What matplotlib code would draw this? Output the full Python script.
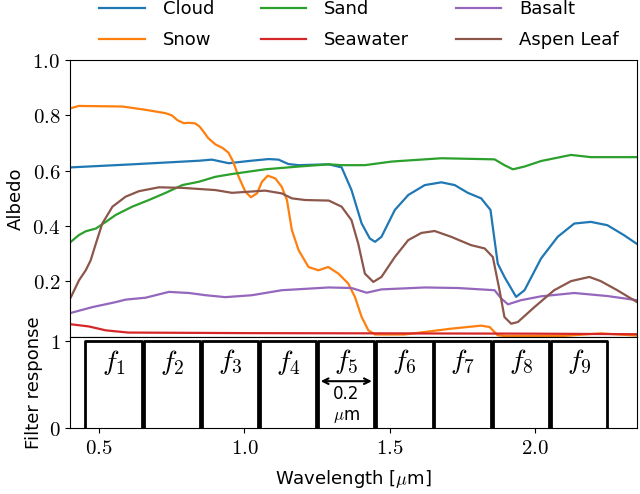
import matplotlib
matplotlib.use("Agg")
import matplotlib.pyplot as plt
from matplotlib.ticker import FuncFormatter

plt.rcParams['font.family'] = ['DejaVu Sans']
plt.rcParams['mathtext.fontset'] = 'cm'

# ---------------- data ----------------
cloud_x = [0.403, 0.614, 0.843, 0.888, 0.946, 1.014, 1.083, 1.117, 1.151, 1.186, 1.29, 1.334,
           1.368, 1.403, 1.431, 1.449, 1.471, 1.517, 1.563, 1.62, 1.677, 1.723, 1.768, 1.814,
           1.846, 1.871, 1.894, 1.934, 1.963, 2.02, 2.077, 2.134, 2.191, 2.248, 2.305, 2.35]
cloud_y = [0.612, 0.623, 0.636, 0.640, 0.627, 0.635, 0.642, 0.640, 0.624, 0.620, 0.623, 0.612,
           0.530, 0.409, 0.355, 0.343, 0.361, 0.458, 0.512, 0.548, 0.558, 0.548, 0.520, 0.500,
           0.458, 0.264, 0.216, 0.144, 0.168, 0.283, 0.361, 0.409, 0.415, 0.403, 0.367, 0.335]

snow_x = [0.403, 0.43, 0.58, 0.66, 0.728, 0.750, 0.770, 0.791, 0.81, 0.83, 0.845, 0.860, 0.875,
          0.90, 0.925, 0.945, 0.960, 0.98, 1.003, 1.022, 1.043, 1.06, 1.08, 1.106, 1.128, 1.146,
          1.163, 1.186, 1.22, 1.254, 1.288, 1.323, 1.357, 1.38, 1.403, 1.426, 1.449, 1.55, 1.62,
          1.71, 1.814, 1.843, 1.871, 1.90, 2.10, 2.225, 2.35]
snow_y = [0.826, 0.834, 0.832, 0.820, 0.808, 0.800, 0.782, 0.772, 0.773, 0.771, 0.760, 0.740, 0.718,
          0.695, 0.682, 0.665, 0.635, 0.578, 0.524, 0.504, 0.518, 0.560, 0.582, 0.572, 0.542, 0.494,
          0.385, 0.313, 0.252, 0.240, 0.252, 0.228, 0.192, 0.143, 0.071, 0.023, 0.008, 0.008, 0.017,
          0.029, 0.040, 0.035, 0.005, 0.002, 0.003, 0.012, 0.004]

sand_x = [0.403, 0.43, 0.454, 0.489, 0.523, 0.557, 0.614, 0.671, 0.729, 0.786, 0.843, 0.90, 0.957,
          1.071, 1.186, 1.29, 1.334, 1.414, 1.506, 1.677, 1.86, 1.894, 1.923, 1.963, 2.02, 2.123,
          2.191, 2.35]
sand_y = [0.343, 0.367, 0.381, 0.391, 0.415, 0.440, 0.470, 0.494, 0.520, 0.548, 0.560, 0.578, 0.588,
          0.605, 0.615, 0.623, 0.620, 0.620, 0.633, 0.645, 0.641, 0.620, 0.605, 0.615, 0.635, 0.657,
          0.649, 0.649]

sea_x = [0.403, 0.465, 0.523, 0.60, 1.0, 1.5, 2.0, 2.35]
sea_y = [0.045, 0.037, 0.023, 0.015, 0.013, 0.012, 0.011, 0.009]

basalt_x = [0.403, 0.477, 0.557, 0.591, 0.66, 0.74, 0.809, 0.866, 0.934, 1.026, 1.128, 1.29, 1.368,
            1.42, 1.471, 1.62, 1.734, 1.86, 1.883, 1.906, 1.951, 2.02, 2.134, 2.248, 2.35]
basalt_y = [0.086, 0.107, 0.125, 0.134, 0.141, 0.162, 0.158, 0.150, 0.143, 0.150, 0.168, 0.178, 0.176,
            0.159, 0.171, 0.178, 0.176, 0.168, 0.138, 0.117, 0.132, 0.146, 0.158, 0.147, 0.132]

aspen_x = [0.403, 0.431, 0.454, 0.471, 0.489, 0.511, 0.546, 0.591, 0.637, 0.706, 0.786, 0.90, 0.957,
           1.071, 1.128, 1.163, 1.209, 1.29, 1.334, 1.368, 1.391, 1.414, 1.443, 1.471, 1.517, 1.563,
           1.608, 1.654, 1.711, 1.779, 1.826, 1.854, 1.877, 1.894, 1.917, 1.94, 1.997, 2.065, 2.123,
           2.186, 2.225, 2.282, 2.35]
aspen_y = [0.143, 0.204, 0.240, 0.276, 0.337, 0.409, 0.470, 0.506, 0.526, 0.540, 0.538, 0.530, 0.520,
           0.528, 0.518, 0.500, 0.494, 0.492, 0.470, 0.421, 0.337, 0.228, 0.198, 0.216, 0.288, 0.349,
           0.375, 0.382, 0.361, 0.331, 0.319, 0.288, 0.168, 0.071, 0.047, 0.053, 0.107, 0.168, 0.201,
           0.216, 0.201, 0.168, 0.125]

filter_centers = [0.55, 0.75, 0.95, 1.15, 1.35, 1.55, 1.75, 1.95, 2.15]
filter_labels = ['$f_{%d}$' % (i + 1) for i in range(9)]
filter_width = 0.2

series = [
    ("Cloud", cloud_x, cloud_y, "C0"),
    ("Snow", snow_x, snow_y, "C1"),
    ("Sand", sand_x, sand_y, "C2"),
    ("Seawater", sea_x, sea_y, "C3"),
    ("Basalt", basalt_x, basalt_y, "C4"),
    ("Aspen Leaf", aspen_x, aspen_y, "C5"),
]

# ---------------- figure ----------------
fig = plt.figure(figsize=(6.4, 4.94), dpi=100)
ax1 = fig.add_axes([0.1094, 0.3184, 0.886, 0.5601])
ax2 = fig.add_axes([0.1094, 0.133, 0.886, 0.1854], sharex=ax1)

for name, xs, ys, c in series:
    ax1.plot(xs, ys, color=c, lw=1.6, label=name)

ax1.set_xlim(0.4, 2.35)
ax1.set_ylim(0.0, 1.0)
ax1.set_yticks([0.2, 0.4, 0.6, 0.8, 1.0])
ax1.yaxis.set_major_formatter(FuncFormatter(lambda v, p: '$%.1f$' % v))
ax1.tick_params(axis='x', bottom=False, labelbottom=False)
ax1.tick_params(axis='y', labelsize=15)
ax1.set_ylabel('Albedo', fontsize=13, labelpad=5)

leg = ax1.legend(loc='lower center', bbox_to_anchor=(0.51, 0.98), ncol=3, frameon=False,
                 fontsize=13, handlelength=2.5, handletextpad=1.0, columnspacing=2.6,
                 labelspacing=0.74)

# filter boxes
half = filter_width / 2 - 0.003
for c, lab in zip(filter_centers, filter_labels):
    ax2.plot([c - half, c - half, c + half, c + half], [0, 1, 1, 0], color='black', lw=2)
    ax2.text(c, 0.76, lab, ha='center', va='center', fontsize=20)

ax2.annotate('', xy=(1.262, 0.54), xytext=(1.438, 0.54),
             arrowprops=dict(arrowstyle='<->', lw=1.5, color='black', shrinkA=0, shrinkB=0))
ax2.text(1.35, 0.5, '0.2\n$\\mu$m', ha='center', va='top', fontsize=12, linespacing=1.25)

ax2.set_ylim(0, 1.05)
ax2.set_yticks([0, 1])
ax2.yaxis.set_major_formatter(FuncFormatter(lambda v, p: '$%d$' % v))
ax2.set_xticks([0.5, 1.0, 1.5, 2.0])
ax2.xaxis.set_major_formatter(FuncFormatter(lambda v, p: '$%.1f$' % v))
ax2.tick_params(labelsize=15)
ax2.set_ylabel('Filter response', fontsize=13)
ax2.set_xlabel('Wavelength [$\\mu$m]', fontsize=13, labelpad=7)

fig.savefig('out.png', dpi=100)
